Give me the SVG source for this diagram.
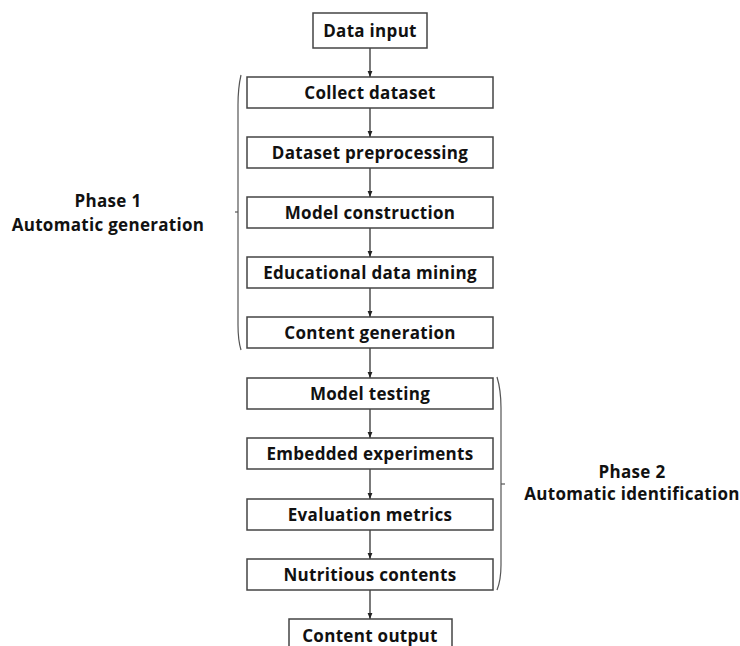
<svg xmlns="http://www.w3.org/2000/svg" width="740" height="646" viewBox="0 0 740 646">
<defs>
<marker id="ah" viewBox="0 0 10 10" refX="10" refY="5" markerWidth="6" markerHeight="6" orient="auto" markerUnits="userSpaceOnUse">
<path d="M0,1 L10,5 L0,9 Z" fill="#222"/>
</marker>
<style>
.box{fill:#fff;stroke:#444;stroke-width:1.5}
.t{font-family:"Open Sans","Liberation Sans",Arial,sans-serif;font-weight:bold;font-size:17px;letter-spacing:0.3px;fill:#111;text-anchor:middle}
.c{stroke:#222;stroke-width:1.2;fill:none;marker-end:url(#ah)}
.br{stroke:#555;stroke-width:1.2;fill:none}
</style>
</defs>
<rect width="740" height="646" fill="#fff"/>
<g id="connectors">
<line class="c" x1="370" y1="48" x2="370" y2="77"/>
<line class="c" x1="370" y1="108" x2="370" y2="137"/>
<line class="c" x1="370" y1="168" x2="370" y2="197"/>
<line class="c" x1="370" y1="228" x2="370" y2="257"/>
<line class="c" x1="370" y1="288" x2="370" y2="317"/>
<line class="c" x1="370" y1="348" x2="370" y2="378"/>
<line class="c" x1="370" y1="409" x2="370" y2="438"/>
<line class="c" x1="370" y1="469" x2="370" y2="499"/>
<line class="c" x1="370" y1="530" x2="370" y2="559"/>
<line class="c" x1="370" y1="590" x2="370" y2="619"/>
</g>
<g id="data-input"><rect class="box" x="313" y="13" width="114" height="35"/><text class="t" x="370" y="36.5">Data input</text></g>
<g id="collect-dataset"><rect class="box" x="247" y="77" width="246" height="31"/><text class="t" x="370" y="98.5">Collect dataset</text></g>
<g id="dataset-preprocessing"><rect class="box" x="247" y="137" width="246" height="31"/><text class="t" x="370" y="158.5">Dataset preprocessing</text></g>
<g id="model-construction"><rect class="box" x="247" y="197" width="246" height="31"/><text class="t" x="370" y="218.5">Model construction</text></g>
<g id="educational-data-mining"><rect class="box" x="247" y="257" width="246" height="31"/><text class="t" x="370" y="278.5">Educational data mining</text></g>
<g id="content-generation"><rect class="box" x="247" y="317" width="246" height="31"/><text class="t" x="370" y="338.5">Content generation</text></g>
<g id="model-testing"><rect class="box" x="247" y="378" width="246" height="31"/><text class="t" x="370" y="399.5">Model testing</text></g>
<g id="embedded-experiments"><rect class="box" x="247" y="438" width="246" height="31"/><text class="t" x="370" y="459.5">Embedded experiments</text></g>
<g id="evaluation-metrics"><rect class="box" x="247" y="499" width="246" height="31"/><text class="t" x="370" y="520.5">Evaluation metrics</text></g>
<g id="nutritious-contents"><rect class="box" x="247" y="559" width="246" height="31"/><text class="t" x="370" y="580.5">Nutritious contents</text></g>
<g id="content-output"><rect class="box" x="289" y="619" width="163" height="35"/><text class="t" x="370" y="642">Content output</text></g>
<g id="phase1">
<path class="br" d="M241,75 Q238,88 238,105 L238,325 Q238,340 241,350"/>
<line class="br" x1="235" y1="212" x2="238" y2="212"/>
<text class="t" x="108" y="207">Phase 1</text>
<text class="t" x="108" y="231">Automatic generation</text>
</g>
<g id="phase2">
<path class="br" d="M497,377 Q501,390 501,408 L501,565 Q501,580 497,590"/>
<line class="br" x1="501" y1="484" x2="505" y2="484"/>
<text class="t" x="632" y="478">Phase 2</text>
<text class="t" x="632" y="500">Automatic identification</text>
</g>
</svg>
